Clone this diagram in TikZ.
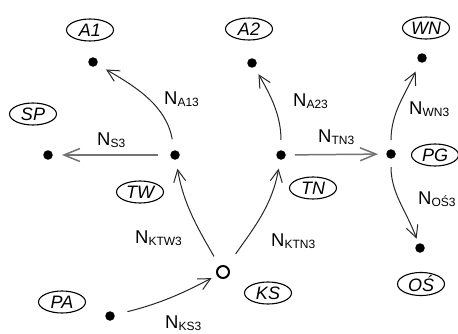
\documentclass[tikz,border=0pt]{standalone}
\usepackage{fontspec}
\setmainfont{Liberation Sans}
\usetikzlibrary{arrows.meta,shapes.geometric}

% flow label: N with a lowered index
\newcommand{\nlab}[1]{{\fontsize{18.5}{18.5}\selectfont N}\raisebox{-2pt}{\fontsize{12}{12}\selectfont #1}}

\begin{document}
\begin{tikzpicture}[x=1pt,y=1pt,
  dot/.style={circle,fill=black,minimum size=9.5pt,inner sep=0pt},
  hub/.style={circle,draw=black,line width=2pt,minimum size=12pt,inner sep=0pt},
  tag/.style={ellipse,draw,line width=1.1pt,minimum width=47pt,minimum height=22pt,inner sep=0pt,
              font=\fontsize{18}{18}\selectfont\itshape},
  elabel/.style={anchor=base west,inner sep=0pt},
  link/.style={draw=black!85,line width=1pt,-{Straight Barb[length=12pt,width=12pt]}},
  flat/.style={draw=black!55,line width=1.5pt,-{Straight Barb[length=16pt,width=13pt]}},
]
\useasboundingbox (0,0) rectangle (458,333);

% points
\node[dot] (a1) at (93,271) {};
\node[dot] (sp) at (48,178) {};
\node[dot] (tw) at (175,178) {};
\node[dot] (a2) at (252,270) {};
\node[dot] (tn) at (281,178) {};
\node[dot] (pg) at (391,179) {};
\node[dot] (wn) at (422,275) {};
\node[dot] (os) at (420,85) {};
\node[hub] (ks) at (223,61) {};
\node[dot] (pa) at (110,17) {};

% names
\node[tag] (tA1) at (90,303) {A1};
\node[tag] (tSP) at (33,219) {SP};
\node[tag] (tA2) at (249,304) {A2};
\node[tag] (tWN) at (426,305) {WN};
\node[tag] (tPG) at (435,178) {PG};
\node[tag] (tTW) at (140,141) {TW};
\node[tag] (tTN) at (313,145) {TN};
\node[tag] (tKS) at (268,40) {KS};
\node[tag] (tPA) at (62,31) {PA};
\node[tag] (tOS) at (421,49) {OŚ};

% flows
\draw[link,shorten <=11pt,shorten >=10pt] (tw) to[out=100,in=-30] (a1);
\draw[flat,shorten <=12pt,shorten >=9pt] (tw) -- (sp);
\draw[link,shorten <=10pt,shorten >=8pt] (tn) to[out=90,in=-60] (a2);
\draw[flat,shorten <=9pt,shorten >=8pt] (tn) -- (pg);
\draw[link,shorten <=9pt,shorten >=10pt] (pg) to[out=90,in=-115] (wn);
\draw[link,shorten <=8pt,shorten >=5pt] (pg) to[out=-90,in=110] (os);
\draw[link,shorten <=11pt,shorten >=9pt] (ks) to[out=120,in=-80] (tw);
\draw[link,shorten <=15pt,shorten >=9pt] (ks) to[out=55,in=-100] (tn);
\draw[link,shorten <=13pt,shorten >=6pt] (pa) to[out=14,in=-152] (ks);

% flow labels
\node[elabel] (lA13) at (164,229) {\nlab{A13}};
\node[elabel] (lS3) at (97,188) {\nlab{S3}};
\node[elabel] (lA23) at (293,227) {\nlab{A23}};
\node[elabel] (lTN3) at (318,191) {\nlab{TN3}};
\node[elabel] (lWN3) at (409,219) {\nlab{WN3}};
\node[elabel] (lOS3) at (418,129) {\nlab{OŚ3}};
\node[elabel] (lKTW3) at (135,90) {\nlab{KTW3}};
\node[elabel] (lKTN3) at (271,87) {\nlab{KTN3}};
\node[elabel] (lKS3) at (165,4.5) {\nlab{KS3}};
\end{tikzpicture}
\end{document}
